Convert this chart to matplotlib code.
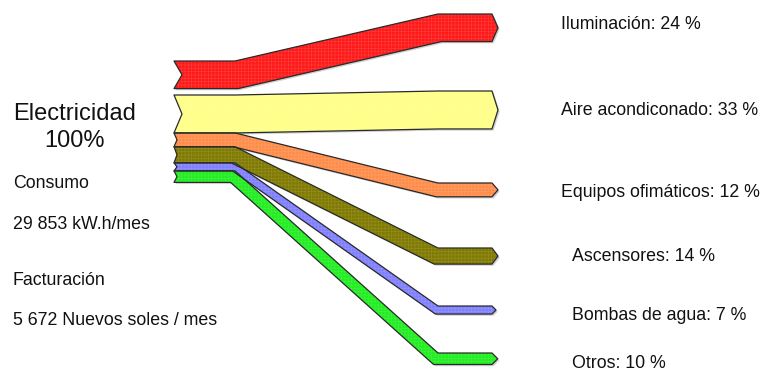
import matplotlib
matplotlib.use("Agg")
import numpy as np
import matplotlib.pyplot as plt
import matplotlib.patheffects as pe
from matplotlib.patches import Polygon
from matplotlib.colors import to_rgb

plt.rcParams['font.family'] = ['Liberation Sans', 'DejaVu Sans']
plt.rcParams['hatch.linewidth'] = 0.45

# Energy use shares (percent of total electricity)
categories = ["Iluminación", "Aire acondiconado", "Equipos ofimáticos",
              "Ascensores", "Bombas de agua", "Otros"]
shares = [24, 33, 12, 14, 7, 10]
colors = ["#ff1a1a", "#ffff88", "#ff8c4a", "#807a00", "#8080ff", "#22ee22"]

source_title = "Electricidad"
source_total = "100%"
info_lines = ["Consumo", "29 853 kW.h/mes", "Facturación", "5 672 Nuevos soles / mes"]

# Layout in pixel coordinates (y grows downwards)
W, H = 765, 373
scale = 1.15                    # pixels per percent of band thickness
x_left, x_bend1, x_bend2, x_end = 174, 235, 438, 492
left_top_first = 61             # first band stands apart at the top
left_top_rest = 95              # the remaining bands are stacked from here
right_tops = [14, 91, 183, 248, 306, 353]
label_x = [561, 561, 561, 572, 572, 572]
label_base = [29, 115, 197, 261, 320, 368]
notch = [8, 8, 3, 3, 3, 3]

fig = plt.figure(figsize=(W / 100, H / 100), dpi=100)
ax = fig.add_axes([0, 0, 1, 1])
ax.set_xlim(0, W)
ax.set_ylim(H, 0)
ax.axis("off")


def lighten(c, f):
    r, g, b = to_rgb(c)
    return (r + (1 - r) * f, g + (1 - g) * f, b + (1 - b) * f)


def offset_polyline(pts, t):
    """Offset a polyline by a constant perpendicular distance (mitred)."""
    pts = np.asarray(pts, float)
    lines = []
    for p, q in zip(pts[:-1], pts[1:]):
        d = (q - p) / np.hypot(*(q - p))
        n = np.array([-d[1], d[0]])
        lines.append((p + n * t, d))
    out = [lines[0][0]]
    for (p1, d1), (p2, d2) in zip(lines[:-1], lines[1:]):
        A = np.array([d1, -d2]).T
        s = np.linalg.solve(A, p2 - p1)[0]
        out.append(p1 + d1 * s)
    last_p, last_d = lines[-1]
    end = pts[-1] + np.array([-last_d[1], last_d[0]]) * t
    out.append(end)
    return out


y_stack = left_top_rest
for i, (name, val, col) in enumerate(zip(categories, shares, colors)):
    t = val * scale
    if i == 0:
        yl = left_top_first
    else:
        yl = y_stack
        y_stack += t
    yr = right_tops[i]
    tip = min(6, t / 2)
    top = [(x_left, yl), (x_bend1, yl), (x_bend2, yr), (x_end, yr)]
    bottom = offset_polyline(top, t)
    pts = top + [(x_end + tip, yr + t / 2)] + [tuple(p) for p in bottom[::-1]]
    pts.append((x_left + notch[i], yl + t / 2))

    body = Polygon(pts, closed=True, facecolor=col, edgecolor="none",
                   zorder=2 + i * 0.01)
    body.set_path_effects([pe.SimplePatchShadow(offset=(1.2, -1.2),
                                                shadow_rgbFace="#999999",
                                                alpha=0.45), pe.Normal()])
    ax.add_patch(body)
    ax.add_patch(Polygon(pts, closed=True, fill=False, hatch="+++++",
                         edgecolor=lighten(col, 0.14), linewidth=0,
                         zorder=2.1 + i * 0.01))
    ax.add_patch(Polygon(pts, closed=True, fill=False, edgecolor="#2a2a2a",
                         linewidth=0.9, joinstyle="round",
                         zorder=2.2 + i * 0.01))
    ax.text(label_x[i], label_base[i], f"{name}: {val} %", fontsize=12.8,
            color="#111111", ha="left", va="baseline")

ax.text(74.5, 120, source_title, fontsize=17, color="#111111",
        ha="center", va="baseline")
ax.text(74.5, 147, source_total, fontsize=17, color="#111111",
        ha="center", va="baseline")
for txt, yb in zip(info_lines, [188, 229, 285, 325]):
    ax.text(13, yb, txt, fontsize=12.8, color="#111111", ha="left",
            va="baseline")

fig.savefig("out.png", dpi=100)
